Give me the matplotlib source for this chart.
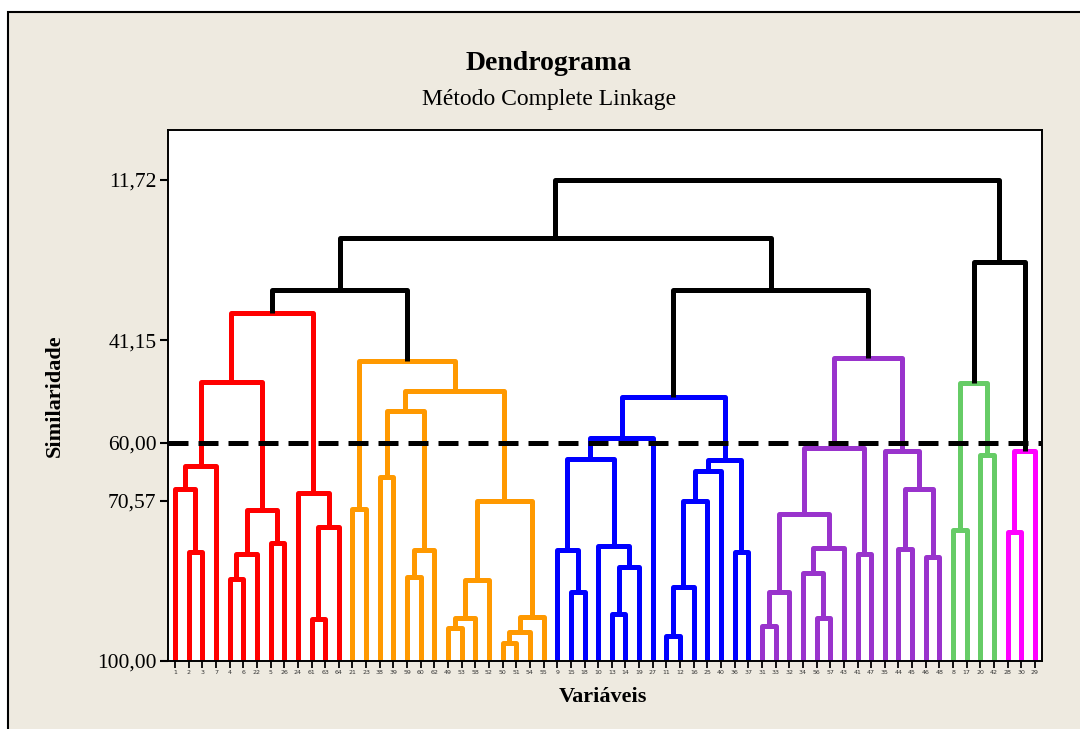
import matplotlib
matplotlib.use('Agg')
import matplotlib.pyplot as plt
from matplotlib.patches import Rectangle

# leaves as they appear from left to right
leaf_order = [1, 2, 3, 7, 4, 6, 22, 5, 26, 24, 61, 63, 64,
              21, 23, 38, 39, 59, 60, 62, 49, 53, 58, 52, 50, 51, 54, 55,
              9, 15, 18, 10, 13, 14, 19, 27, 11, 12, 16, 25, 40, 36, 37,
              31, 33, 32, 34, 56, 57, 43, 41, 47, 35, 44, 45, 46, 48,
              8, 17, 20, 42,
              28, 30, 29]

# groups of consecutive leaves and their colours
cluster_sizes = [13, 15, 15, 14, 4, 3]
cluster_colors = ['#FF0000', '#FF9900', '#0000FF', '#9933CC', '#66CC66', '#FF00FF']

# merges: (left, right, similarity); ints are leaves, '#k' is merge row k
merges = [
    (2, 3, 80.1),          # 0
    (1, '#0', 68.4),       # 1
    ('#1', 7, 64.2),       # 2
    (4, 6, 84.9),          # 3
    ('#3', 22, 80.3),      # 4
    (5, 26, 78.3),         # 5
    ('#4', '#5', 72.3),    # 6
    ('#2', '#6', 48.9),    # 7
    (61, 63, 92.3),        # 8
    ('#8', 64, 75.5),      # 9
    (24, '#9', 69.2),      # 10
    ('#7', '#10', 36.2),   # 11
    (21, 23, 72.1),        # 12
    (38, 39, 66.2),        # 13
    (59, 60, 84.6),        # 14
    ('#14', 62, 79.7),     # 15
    ('#13', '#15', 54.2),  # 16
    (49, 53, 93.9),        # 17
    ('#17', 58, 92.2),     # 18
    ('#18', 52, 85.2),     # 19
    (50, 51, 96.7),        # 20
    ('#20', 54, 94.6),     # 21
    ('#21', 55, 91.9),     # 22
    ('#19', '#22', 70.6),  # 23
    ('#16', '#23', 50.4),  # 24
    ('#12', '#24', 44.9),  # 25
    ('#11', '#25', 32.0),  # 26
    (15, 18, 87.4),        # 27
    (9, '#27', 79.6),      # 28
    (13, 14, 91.4),        # 29
    ('#29', 19, 82.7),     # 30
    (10, '#30', 78.9),     # 31
    ('#28', '#31', 62.9),  # 32
    ('#32', 27, 59.1),     # 33
    (11, 12, 95.4),        # 34
    ('#34', 16, 86.5),     # 35
    ('#35', 25, 70.6),     # 36
    ('#36', 40, 65.1),     # 37
    (36, 37, 80.1),        # 38
    ('#37', '#38', 63.2),  # 39
    ('#33', '#39', 51.5),  # 40
    (31, 33, 93.6),        # 41
    ('#41', 32, 87.3),     # 42
    (56, 57, 92.2),        # 43
    (34, '#43', 83.8),     # 44
    ('#44', 43, 79.3),     # 45
    ('#42', '#45', 73.0),  # 46
    (41, 47, 80.3),        # 47
    ('#46', '#47', 60.9),  # 48
    (44, 45, 79.5),        # 49
    (46, 48, 81.0),        # 50
    ('#49', '#50', 68.4),  # 51
    (35, '#51', 61.4),     # 52
    ('#48', '#52', 44.5),  # 53
    ('#40', '#53', 32.0),  # 54
    ('#26', '#54', 22.4),  # 55
    (8, 17, 76.0),         # 56
    (20, 42, 62.3),        # 57
    ('#56', '#57', 49.1),  # 58
    (28, 30, 76.4),        # 59
    ('#59', 29, 61.4),     # 60
    ('#58', '#60', 26.8),  # 61
    ('#55', '#61', 11.72), # 62
]

y_ticks = [11.72, 41.15, 60.00, 70.57, 100.00]
y_tick_labels = ['11,72', '41,15', '60,00', '70,57', '100,00']
cut_level = 60.0
base_level = 100.0

serif = 'Liberation Serif'

# cluster number for each leaf position
leaf_cluster = []
for c, n in enumerate(cluster_sizes):
    leaf_cluster += [c] * n

fig = plt.figure(figsize=(10.8, 7.29), dpi=100)
fig.patch.set_facecolor('white')
fig.patches.append(Rectangle((8 / 1080, -0.05), 1.1, 1 - 12 / 729 + 0.05,
                             transform=fig.transFigure, facecolor='#EEEAE0',
                             edgecolor='black', linewidth=1.5, zorder=-5))

ax = fig.add_axes([0.1551, 0.0933, 0.8094, 0.7284])
ax.set_facecolor('white')

xs, hs, members = [], [], []


def node(ref):
    if isinstance(ref, str):
        k = int(ref[1:])
        return xs[k], hs[k], members[k]
    i = leaf_order.index(ref)
    return i, base_level, {i}


for left, right, sim in merges:
    xl, hl, ml = node(left)
    xr, hr, mr = node(right)
    both = ml | mr
    xs.append((xl + xr) / 2)
    hs.append(sim)
    members.append(both)
    groups = {leaf_cluster[i] for i in both}
    color = cluster_colors[groups.pop()] if len(groups) == 1 else 'black'
    ax.plot([xl, xl, xr, xr], [hl, sim, sim, hr], color=color, lw=3.6,
            solid_joinstyle='round', solid_capstyle='butt', zorder=2)

ax.axhline(cut_level, color='black', lw=3.6, dashes=(4, 2), zorder=3)

ax.set_xlim(-0.55, 63.49)
ax.set_ylim(base_level, 2.6)

ax.set_xticks(range(len(leaf_order)))
ax.set_xticklabels([str(v) for v in leaf_order], fontsize=4.5, color='#333333')
ax.tick_params(axis='x', length=5, width=1.3, pad=1.5)

ax.set_yticks(y_ticks)
ax.set_yticklabels(y_tick_labels, fontsize=15.5, family=serif)
ax.tick_params(axis='y', length=6, width=1.5, pad=2)

for s in ax.spines.values():
    s.set_linewidth(1.4)

fig.text(0.508, 1 - 64 / 729, 'Dendrograma', ha='center', va='center',
         fontsize=20, fontweight='bold', family=serif)
fig.text(0.508, 1 - 99 / 729, 'Método Complete Linkage', ha='center', va='center',
         fontsize=17, family=serif)
fig.text(55 / 1080, 1 - 396 / 729, 'Similaridade', ha='center', va='center',
         rotation=90, fontsize=16, fontweight='bold', family=serif)
fig.text(603 / 1080, 1 - 697 / 729, 'Variáveis', ha='center', va='center',
         fontsize=16, fontweight='bold', family=serif)

fig.savefig('out.png', dpi=100, facecolor=fig.get_facecolor())
